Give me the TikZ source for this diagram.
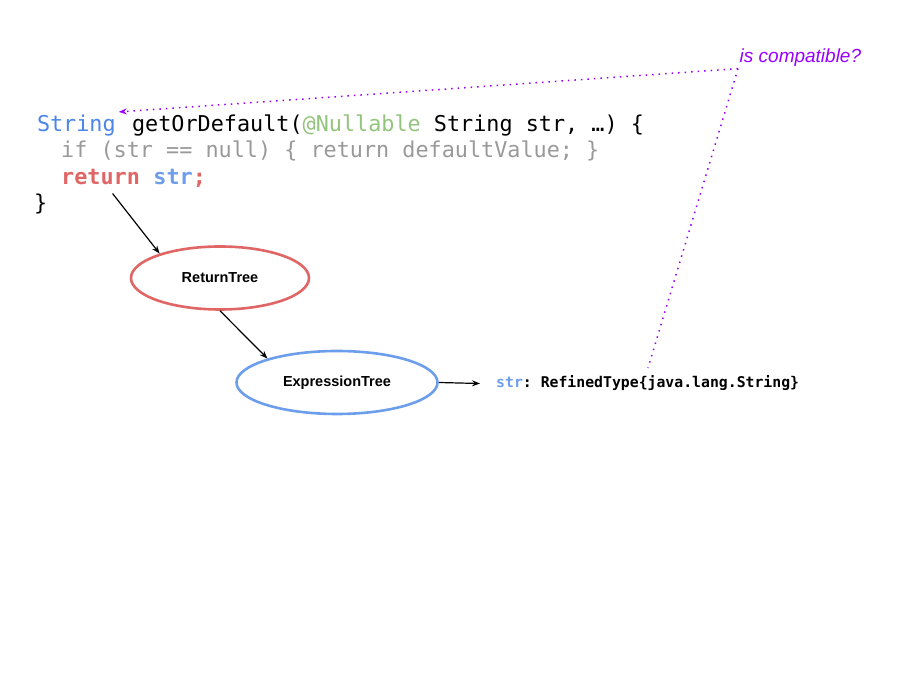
\documentclass[tikz,border=0pt]{standalone}
\usepackage{fontspec}
\setmainfont{Liberation Sans}
\setmonofont{DejaVu Sans Mono}
\usetikzlibrary{shapes.geometric}
\usetikzlibrary{arrows.meta}
\definecolor{typeblue}{HTML}{4A86E8}
\definecolor{varblue}{HTML}{6D9EEB}
\definecolor{annogreen}{HTML}{93C47D}
\definecolor{dimgray}{HTML}{999999}
\definecolor{retred}{HTML}{E06666}
\definecolor{chkpurple}{HTML}{9900FF}

\begin{document}
\begin{tikzpicture}
[x=1pt,y=1pt,>={Stealth[length=8pt,width=6pt]},%
  every node/.style={inner sep=0pt},%
  code/.style={anchor=base west,font=\ttfamily\fontsize{21.8}{26}\selectfont},%
  tree/.style={shape=ellipse,draw,line width=2.6pt,minimum height=63pt,font=\bfseries\fontsize{14.5}{17}\selectfont},%
  check/.style={draw=chkpurple,line width=1.5pt,dash pattern=on 1.5pt off 5pt}]
\useasboundingbox (0,0) rectangle (916,687);
% source lines
\node[code,text=typeblue,outer sep=3pt] (sigtype) at (34,555.5) {String};
\node[code] (sigrest) at (sigtype.base east) {\ getOrDefault(\textcolor{annogreen}{@Nullable} String str, …) \{};
\node[code,text=dimgray] (nullchk) at (61,529) {if (str == null) \{ return defaultValue; \}};
\node[code,text=retred,font=\ttfamily\bfseries\fontsize{21.8}{26}\selectfont] (kwret) at (61,502) {return};
\node[code,font=\ttfamily\bfseries\fontsize{21.8}{26}\selectfont] (retvar) at (kwret.base east) {\ \textcolor{varblue}{str}\textcolor{retred}{;}};
\node[code] (close) at (34,476) {\}};
% trees
\node[tree,draw=retred,minimum width=178pt] (rt) at (220,409) {ReturnTree};
\node[tree,draw=varblue,minimum width=201pt] (exp) at (337,304.5) {ExpressionTree};
\node[anchor=base west,inner xsep=16pt,inner ysep=2pt,font=\ttfamily\bfseries\fontsize{14.8}{17}\selectfont] (reftype) at (480,299) {\textcolor{varblue}{str}: RefinedType\{java.lang.String\}};
\node[anchor=base west,inner sep=1.5pt,text=chkpurple,font=\itshape\fontsize{19}{22}\selectfont] (compat) at (738,624) {is compatible?};
\coordinate (typehint) at (648,319);
\draw[->,line width=1.2pt] ([shift={(12pt,-8pt)}]kwret.south) -- (rt.158);
\draw[->,line width=1.2pt] (rt.south) -- (exp.161);
\draw[->,line width=1.2pt] (exp.east) -- (reftype.west);
\draw[check,->] (compat.south west) -- (sigtype.north east);
\draw[check] (compat.south west) -- (typehint);
\end{tikzpicture}
\end{document}
